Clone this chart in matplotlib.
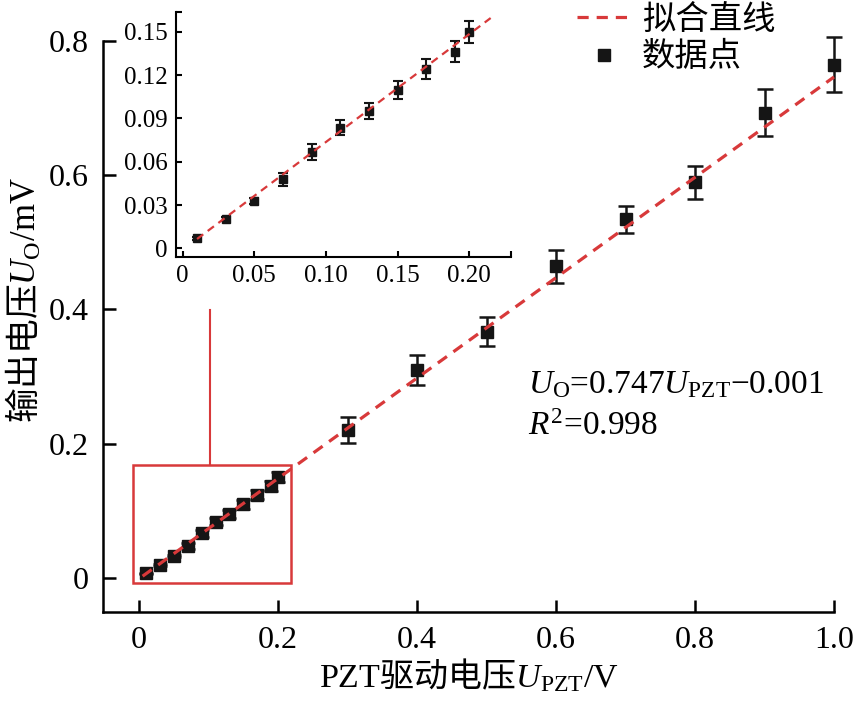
import matplotlib
matplotlib.use("Agg")
import matplotlib.pyplot as plt
from matplotlib.patches import Rectangle
from matplotlib.lines import Line2D
import numpy as np

# ── Data ──────────────────────────────────────────────────────────────────────
# low-voltage points (shown in inset and in the red box)
small_x = [0.01, 0.03, 0.05, 0.07, 0.09, 0.11, 0.13, 0.15, 0.17, 0.19, 0.20]
small_y = [0.0069, 0.0201, 0.0328, 0.0478, 0.0666, 0.0836, 0.0952, 0.1098,
           0.1241, 0.1363, 0.1502]
small_err = [0.0010, 0.0015, 0.0020, 0.0046, 0.0054, 0.0054, 0.0058, 0.0064,
             0.0069, 0.0074, 0.0077]

# high-voltage points
main_x = [0.3, 0.4, 0.5, 0.6, 0.7, 0.8, 0.9, 1.0]
main_y = [0.220, 0.310, 0.367, 0.464, 0.534, 0.589, 0.693, 0.764]
main_err = [0.019, 0.022, 0.021, 0.025, 0.020, 0.025, 0.035, 0.041]

SLOPE, INTERCEPT = 0.747, -0.001

main_xticks = [0, 0.2, 0.4, 0.6, 0.8, 1.0]
main_xlabels = ["0", "0.2", "0.4", "0.6", "0.8", "1.0"]
main_yticks = [0, 0.2, 0.4, 0.6, 0.8]
main_ylabels = ["0", "0.2", "0.4", "0.6", "0.8"]
ins_xticks = [0, 0.05, 0.10, 0.15, 0.20]
ins_xlabels = ["0", "0.05", "0.10", "0.15", "0.20"]
ins_yticks = [0, 0.03, 0.06, 0.09, 0.12, 0.15]
ins_ylabels = ["0", "0.03", "0.06", "0.09", "0.12", "0.15"]

RED = "#d8393a"
DASH = (0, (3.5, 2.5))

plt.rcParams["font.family"] = ["Liberation Serif", "Noto Sans CJK SC"]
plt.rcParams["mathtext.fontset"] = "custom"
plt.rcParams["mathtext.rm"] = "Liberation Serif"
plt.rcParams["mathtext.it"] = "Liberation Serif:italic"
plt.rcParams["mathtext.sf"] = "Noto Sans CJK SC"

fig = plt.figure(figsize=(8.57, 7.08), dpi=100)

# ── Main axes ─────────────────────────────────────────────────────────────────
ax = fig.add_axes([103 / 857, 1 - 612 / 708, 731 / 857, 571.3 / 708])
ax.set_xlim(-0.052, 1.0)
ax.set_ylim(-0.0506, 0.8)
for s in ["top", "right"]:
    ax.spines[s].set_visible(False)
for s in ["left", "bottom"]:
    ax.spines[s].set_linewidth(1.8)
ax.tick_params(direction="in", length=9, width=1.8, labelsize=23, pad=10)
ax.set_xticks(main_xticks)
ax.set_xticklabels(main_xlabels)
ax.set_yticks(main_yticks)
ax.set_yticklabels(main_ylabels)

xf = np.array([0.005, 1.0])
ax.plot(xf, SLOPE * xf + INTERCEPT, ls=DASH, color=RED, lw=2.3,
        zorder=3, clip_on=False)
ax.errorbar(small_x, small_y, yerr=small_err, fmt="s", color="#151515",
            ms=9, elinewidth=1.8, capsize=5, capthick=1.8, zorder=2)
ax.errorbar(main_x, main_y, yerr=main_err, fmt="s", color="#151515",
            ms=9, elinewidth=1.8, capsize=5.5, capthick=1.8, zorder=2,
            clip_on=False)

# red zoom box + connector
ax.add_patch(Rectangle((-0.0095, -0.0079), 0.2285, 0.176, fill=False,
                       ec=RED, lw=1.8, zorder=4))
ax.plot([0.1027, 0.1027], [0.168, 0.399], color=RED, lw=1.5, zorder=4)

ax.text(0.559, 0.2755, r"$U_\mathrm{O}$=0.747$U_\mathrm{PZT}$" + "\u22120.001",
        fontsize=24, va="baseline")
ax.text(0.559, 0.213, r"$R^2$=0.998", fontsize=24, va="baseline")

fig.text(469 / 857, 1 - 675 / 708,
         r"PZT$\mathsf{驱动电压}U_\mathrm{PZT}\mathrm{/V}$",
         fontsize=24.5, ha="center", va="center")
fig.text(24 / 857, 1 - 300 / 708,
         r"$\mathsf{输出电压}U_\mathrm{O}\mathrm{/mV}$",
         fontsize=25, ha="center", va="center", rotation=90)

handles = [Line2D([], [], ls=DASH, color=RED, lw=2.3),
           Line2D([], [], ls="none", marker="s", color="#151515", ms=9)]
fig.legend(handles, ["拟合直线", "数据点"], loc="upper left",
           bbox_to_anchor=(557 / 857, 1.022), frameon=False, fontsize=24,
           handlelength=1.6, handletextpad=0.35, labelspacing=0.2,
           borderpad=0.1)

# ── Inset ─────────────────────────────────────────────────────────────────────
ins = fig.add_axes([176 / 857, 1 - 256.7 / 708, 334.7 / 857, 245 / 708])
ins.patch.set_alpha(0)
ins.set_xlim(-0.0047, 0.229)
ins.set_ylim(-0.0058, 0.164)
for s in ["top", "right"]:
    ins.spines[s].set_visible(False)
for s in ["left", "bottom"]:
    ins.spines[s].set_linewidth(1.5)
ins.tick_params(direction="in", length=4.5, width=1.5, labelsize=18, pad=6)
ins.set_xticks(ins_xticks + [0.229])
ins.set_xticklabels(ins_xlabels + [""])
ins.set_yticks(ins_yticks + [0.164])
ins.set_yticklabels(ins_ylabels + [""])

xi = np.array([0.01, 0.215])
ins.plot(xi, SLOPE * xi + INTERCEPT, ls=DASH, color=RED, lw=1.6, zorder=3)
ins.errorbar(small_x, small_y, yerr=small_err, fmt="s", color="#151515",
             ms=6, elinewidth=1.5, capsize=3.5, capthick=1.5, zorder=2)

fig.savefig("out.png", dpi=100)
